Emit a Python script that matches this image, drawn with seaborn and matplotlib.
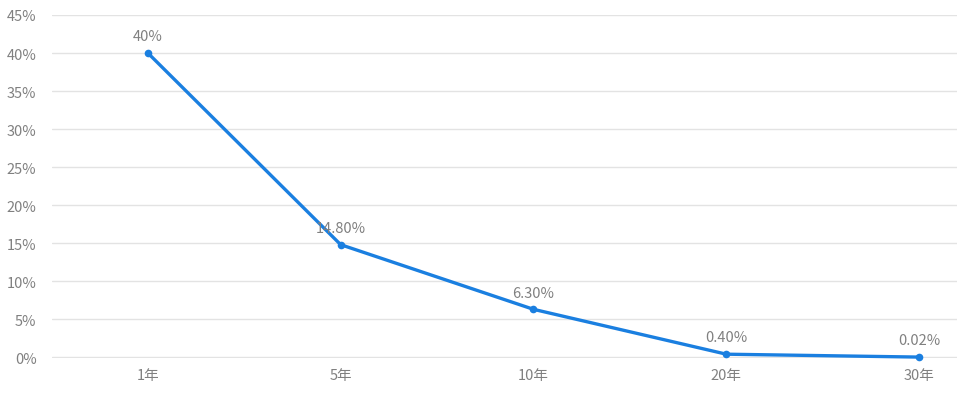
import matplotlib
matplotlib.use('Agg')
import matplotlib.pyplot as plt
import pandas as pd
import seaborn as sns

years = ['1年', '5年', '10年', '20年', '30年']
rates = [40, 14.8, 6.3, 0.4, 0.02]
labels = ['40%', '14.80%', '6.30%', '0.40%', '0.02%']
y_ticks = [0, 5, 10, 15, 20, 25, 30, 35, 40, 45]

LINE = '#1a7fe0'
TEXT = '#808080'
GRID = '#e3e3e3'

sns.set_theme(style='white')
plt.rcParams['font.family'] = ['Noto Sans CJK SC', 'DejaVu Sans']

df = pd.DataFrame({'year': years, 'rate': rates})

fig = plt.figure(figsize=(9.6, 4.1), dpi=100)
ax = fig.add_axes([0.054, 0.1244, 0.943, 0.8366])

sns.lineplot(data=df, x='year', y='rate', sort=False, ax=ax, color=LINE,
             linewidth=2.4, marker='o', markersize=5.5, markeredgewidth=0,
             zorder=3, clip_on=False)

for i, (v, lab) in enumerate(zip(rates, labels)):
    ax.annotate(lab, (i, v), xytext=(0, 7), textcoords='offset points',
                ha='center', va='bottom', color=TEXT, fontsize=10.5)

ax.set_ylim(-0.1, 45)
ax.set_xlim(-0.498, 4.197)
ax.set_yticks(y_ticks)
ax.set_yticklabels([f'{t}%' for t in y_ticks])
ax.yaxis.grid(True, color=GRID, linewidth=1)
ax.xaxis.grid(False)
ax.set_axisbelow(True)
for s in ax.spines.values():
    s.set_visible(False)
ax.tick_params(axis='both', length=0, colors=TEXT, labelsize=10.5)
ax.tick_params(axis='y', pad=11)
ax.tick_params(axis='x', pad=7)
ax.set_xlabel('')
ax.set_ylabel('')

fig.savefig('out.png', dpi=100)
